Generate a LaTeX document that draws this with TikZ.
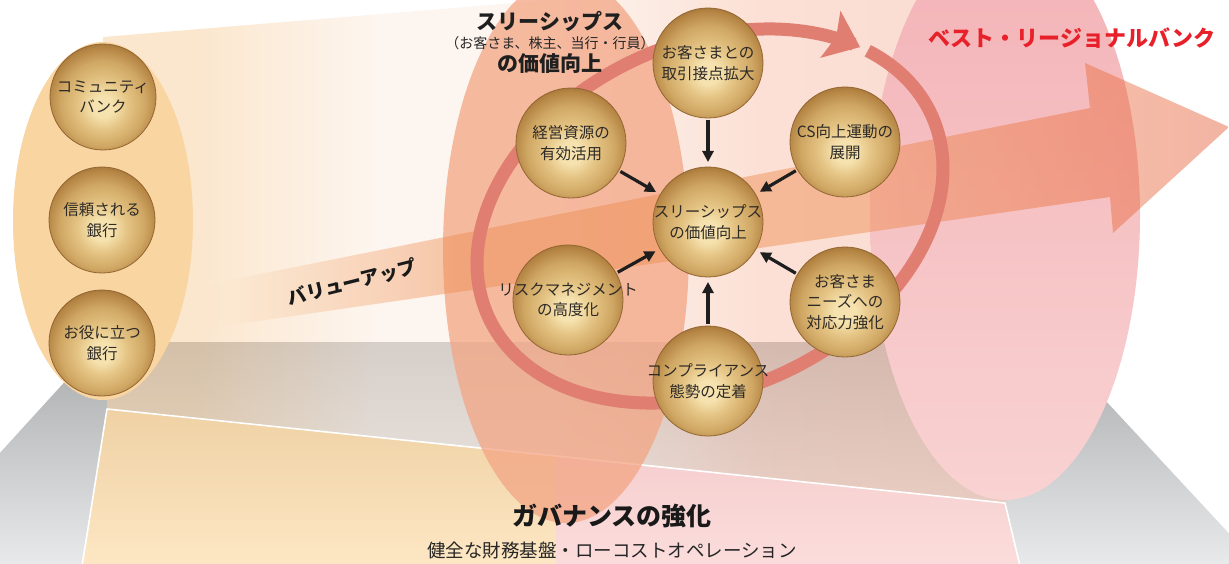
\documentclass[tikz,border=0pt]{standalone}
\usepackage{fontspec}
\newfontfamily\jp{Noto Sans CJK JP}
\usetikzlibrary{arrows.meta}

% palette
\definecolor{ballhi}{HTML}{F6E2AE}
\definecolor{ballmid}{HTML}{E4C383}
\definecolor{ballbody}{HTML}{D0A764}
\definecolor{balldark}{HTML}{B48443}
\definecolor{ballrim}{HTML}{8C5F2A}
\definecolor{ballline}{HTML}{936631}
\definecolor{balltext}{HTML}{2E2A26}
\definecolor{connc}{HTML}{1E1E1E}
\definecolor{ringc}{HTML}{E07E72}
\definecolor{leftell}{HTML}{F9D5A2}
\definecolor{midell}{HTML}{F3A584}
\definecolor{pinkT}{HTML}{F3B2B6}
\definecolor{pinkB}{HTML}{F9D2D2}
\definecolor{bestred}{HTML}{E8202A}
\definecolor{floorT}{HTML}{A9AAAC}
\definecolor{floorB}{HTML}{F6F7F8}
\definecolor{panelLT}{HTML}{EFD1A4}
\definecolor{panelLB}{HTML}{FDE7C4}
\definecolor{panelRT}{HTML}{F6CFCF}
\definecolor{panelRB}{HTML}{FBDDDC}
\definecolor{coneA}{HTML}{F9D3A6}
\definecolor{coneB}{HTML}{FCEEE2}
\definecolor{coneC}{HTML}{FAC8B4}
\definecolor{coneD}{HTML}{F7C0AC}
\definecolor{bandA}{HTML}{FCE7CE}
\definecolor{bandB}{HTML}{EE8A4C}
\definecolor{bandC}{HTML}{E65A34}

% golden sphere
\pgfdeclareradialshading{ballshade}{\pgfpoint{0bp}{-5bp}}{%
  color(0bp)=(ballhi); color(5bp)=(ballhi); color(12bp)=(ballmid);
  color(20bp)=(ballbody); color(26bp)=(balldark); color(31bp)=(ballrim);
  color(50bp)=(ballrim)}
% body of the cone, left to right
\pgfdeclarehorizontalshading{coneshade}{100bp}{%
  color(0bp)=(coneA); color(30bp)=(coneA); color(40bp)=(coneB);
  color(50bp)=(coneB); color(61bp)=(coneC); color(75bp)=(coneD);
  color(100bp)=(coneD)}
% value-up band, left to right
\pgfdeclarehorizontalshading{bandshade}{100bp}{%
  color(0bp)=(bandA); color(27bp)=(bandA); color(38bp)=(bandB);
  color(58bp)=(bandB); color(75bp)=(bandC); color(100bp)=(bandC)}

\begin{document}
\begin{tikzpicture}[x=1pt,y=-1pt,
  ball/.style={circle, minimum size=110pt, inner sep=0pt, outer sep=0pt,
    shade, shading=ballshade, draw=ballline, line width=0.8pt},
  smallball/.style={ball, minimum size=106pt},
  balltxt/.style={align=center, text=balltext, inner sep=0pt,
    font=\jp\fontsize{15.5}{20.5}\selectfont},
  conn/.style={-{Triangle[length=11pt,width=11pt]}, line width=3.2pt,
    draw=connc, shorten <=2pt, shorten >=5pt},
  ring/.style={draw=ringc, line width=13pt,
    -{Stealth[length=32pt,width=50pt,inset=6pt]}},
  headline/.style={inner sep=0pt, text=black!88,
    font=\jp\bfseries\fontsize{21}{24}\selectfont},
]
\useasboundingbox (0,0) rectangle (1229,564);
\clip (0,0) rectangle (1229,564);
\fill[white] (0,0) rectangle (1229,564);

% floor in perspective
\shade[top color=floorT, bottom color=floorB]
  (101,342) -- (1051,342) -- (1302,612) -- (-145,612) -- cycle;

% translucent cone
\path[shade, shading=coneshade, opacity=.55]
  (103,37) -- (1010,-38) -- (1005,503) -- (107,409) -- cycle;

% governance panel
\shade[top color=panelLT, bottom color=panelLB]
  (107,409) -- (556,456) -- (556,566) -- (82,566) -- cycle;
\shade[top color=panelRT, bottom color=panelRB]
  (556,456) -- (1005,503) -- (1020,566) -- (556,566) -- cycle;
\draw[white, line width=1.6pt, line join=round]
  (82,566) -- (107,409) -- (1005,503) -- (1020,566);

% cross sections of the cone
\fill[leftell] (103,221) ellipse [x radius=90, y radius=179];
\fill[midell, opacity=.75] (566,250) ellipse [x radius=123, y radius=273];
\shade[top color=pinkT, bottom color=pinkB]
  (1005,215) ellipse [x radius=135, y radius=285];

% value-up arrow
\path[shade, shading=bandshade, opacity=.45]
  (190,288) -- (1090,108) -- (1085,63) -- (1229,127) -- (1113,233)
  -- (1110,197) -- (190,331) -- cycle;

% cycle around the three-ships cluster
\draw[ring] plot[domain=29.5:-328, samples=180, variable=\t]
  ({710+221.76*cos(\t)-71.55*sin(\t)}, {216-100.59*cos(\t)-157.73*sin(\t)});

% spheres
\node[smallball] (cb)  at (103,97)  {};
\node[smallball] (sr)  at (102,220) {};
\node[smallball] (oy)  at (102,343) {};
\node[ball] (top) at (708,63)  {};
\node[ball] (ul)  at (571,143) {};
\node[ball] (ur)  at (845,142) {};
\node[ball] (ctr) at (708,222) {};
\node[ball] (ll)  at (568,300) {};
\node[ball] (lr)  at (845,302) {};
\node[ball] (bot) at (708,381) {};

\node[balltxt] at (cb)  {コミュニティ\\バンク};
\node[balltxt] at (sr)  {信頼される\\銀行};
\node[balltxt] at (oy)  {お役に立つ\\銀行};
\node[balltxt] at (top) {お客さまとの\\取引接点拡大};
\node[balltxt] at (ul)  {経営資源の\\有効活用};
\node[balltxt] at (ur)  {CS向上運動の\\展開};
\node[balltxt] at (ctr) {スリーシップス\\の価値向上};
\node[balltxt] at (ll)  {リスクマネジメント\\の高度化};
\node[balltxt] at (lr)  {お客さま\\ニーズへの\\対応力強化};
\node[balltxt] at (bot) {コンプライアンス\\態勢の定着};

% contributions to the centre
\draw[conn] (top) -- (ctr);
\draw[conn] (ul)  -- (ctr);
\draw[conn] (ur)  -- (ctr);
\draw[conn] (ll)  -- (ctr);
\draw[conn] (lr)  -- (ctr);
\draw[conn] (bot) -- (ctr);

% headings
\node[headline] (h1) at (550,22) {スリーシップス};
\node[inner sep=0pt, text=black!85, font=\jp\fontsize{14}{16}\selectfont]
  (h2) at (550,43) {（お客さま、株主、当行・行員）};
\node[headline] (h3) at (550,64) {の価値向上};

\node[inner sep=0pt, text=bestred, font=\jp\bfseries\fontsize{22}{24}\selectfont]
  (best) at (1072,38) {ベスト・リージョナルバンク};

\node[inner sep=0pt, text=black!90, rotate=14,
  font=\jp\bfseries\fontsize{19}{21}\selectfont]
  (vu) at (352,282) {バリューアップ};

\node[inner sep=0pt, text=black!90, font=\jp\bfseries\fontsize{25}{28}\selectfont]
  (gov) at (612,516) {ガバナンスの強化};
\node[inner sep=0pt, text=black!85, font=\jp\fontsize{18.5}{21}\selectfont]
  (fin) at (612,550) {健全な財務基盤・ローコストオペレーション};
\end{tikzpicture}
\end{document}
